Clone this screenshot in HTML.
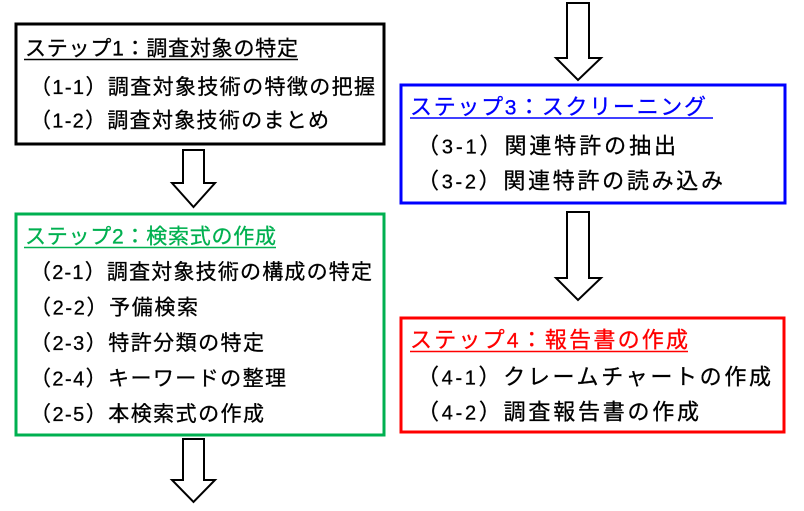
<!DOCTYPE html>
<html><head><meta charset="utf-8">
<style>
html,body{margin:0;padding:0;background:#fff;}
body{width:804px;height:511px;overflow:hidden;}
svg{display:block;}
text{font-family:"Liberation Sans","Noto Sans CJK JP",sans-serif;}
.d{font-size:20px;}
.td{font-size:21px;}
</style></head>
<body>
<svg width="804" height="511" viewBox="0 0 804 511" xmlns="http://www.w3.org/2000/svg">
<rect x="0" y="0" width="804" height="511" fill="#fff"/>
<!-- Arrows -->
<g fill="#fff" stroke="#000" stroke-width="2" stroke-linejoin="miter">
<polygon points="183,150 204,150 204,183 215,183 193.5,207 172,183 183,183"/>
<polygon points="183,439 204,439 204,480 215,480 193.5,502 172,480 183,480"/>
<polygon points="567,3 589,3 589,58 601,58 578,80 556,58 567,58"/>
<polygon points="567,212 589,212 589,278 601,278 578,300 556,278 567,278"/>
</g>
<!-- Boxes -->
<rect x="16" y="24" width="368" height="120" fill="#fff" stroke="#000" stroke-width="3"/>
<rect x="16" y="214" width="368" height="221" fill="#fff" stroke="#00B050" stroke-width="3"/>
<rect x="401" y="85" width="384" height="118" fill="#fff" stroke="#0000FF" stroke-width="3"/>
<rect x="401" y="318" width="383" height="114" fill="#fff" stroke="#FF0000" stroke-width="3"/>

<!-- Box 1 -->
<g font-size="21" stroke-width="0.3">
<text x="25" y="55.5" fill="#000" stroke="#000" textLength="273" lengthAdjust="spacing">ステップ<tspan class="td">1</tspan>：調査対象の特定</text>
<line x1="24" y1="59.5" x2="298" y2="59.5" stroke="#000" stroke-width="1.5"/>
<text x="30" y="94" fill="#000" stroke="#000" textLength="345" lengthAdjust="spacing">（<tspan class="d">1-1</tspan>）調査対象技術の特徴の把握</text>
<text x="30" y="127.5" fill="#000" stroke="#000" textLength="299" lengthAdjust="spacing">（<tspan class="d">1-2</tspan>）調査対象技術のまとめ</text>
</g>

<!-- Box 2 -->
<g font-size="21" stroke-width="0.3">
<text x="25" y="243.5" fill="#00B050" stroke="#00B050" textLength="251" lengthAdjust="spacing">ステップ<tspan class="td">2</tspan>：検索式の作成</text>
<line x1="24" y1="247.5" x2="276" y2="247.5" stroke="#00B050" stroke-width="1.5"/>
<text x="30" y="279" fill="#000" stroke="#000" textLength="342" lengthAdjust="spacing">（<tspan class="d">2-1</tspan>）調査対象技術の構成の特定</text>
<text x="30" y="314.5" fill="#000" stroke="#000" textLength="168" lengthAdjust="spacing">（<tspan class="d">2-2</tspan>）予備検索</text>
<text x="30" y="350" fill="#000" stroke="#000" textLength="234" lengthAdjust="spacing">（<tspan class="d">2-3</tspan>）特許分類の特定</text>
<text x="30" y="385.5" fill="#000" stroke="#000" textLength="256" lengthAdjust="spacing">（<tspan class="d">2-4</tspan>）キーワードの整理</text>
<text x="30" y="421" fill="#000" stroke="#000" textLength="234" lengthAdjust="spacing">（<tspan class="d">2-5</tspan>）本検索式の作成</text>
</g>

<!-- Box 3 -->
<g font-size="22" stroke-width="0.3">
<text x="410" y="114.5" fill="#0000FF" stroke="#0000FF" textLength="296" lengthAdjust="spacing">ステップ<tspan class="td">3</tspan>：スクリーニング</text>
<line x1="410" y1="118" x2="713" y2="118" stroke="#0000FF" stroke-width="1.5"/>
<text x="417" y="153.5" fill="#000" stroke="#000" textLength="259" lengthAdjust="spacing">（<tspan class="d">3-1</tspan>）関連特許の抽出</text>
<text x="417" y="188.5" fill="#000" stroke="#000" textLength="306" lengthAdjust="spacing">（<tspan class="d">3-2</tspan>）関連特許の読み込み</text>
</g>

<!-- Box 4 -->
<g font-size="22" stroke-width="0.3">
<text x="410" y="347.5" fill="#FF0000" stroke="#FF0000" textLength="278" lengthAdjust="spacing">ステップ<tspan class="td">4</tspan>：報告書の作成</text>
<line x1="410" y1="351.5" x2="688" y2="351.5" stroke="#FF0000" stroke-width="1.5"/>
<text x="417" y="384.5" fill="#000" stroke="#000" textLength="354" lengthAdjust="spacing">（<tspan class="d">4-1</tspan>）クレームチャートの作成</text>
<text x="417" y="419.5" fill="#000" stroke="#000" textLength="282" lengthAdjust="spacing">（<tspan class="d">4-2</tspan>）調査報告書の作成</text>
</g>
</svg>
</body></html>
